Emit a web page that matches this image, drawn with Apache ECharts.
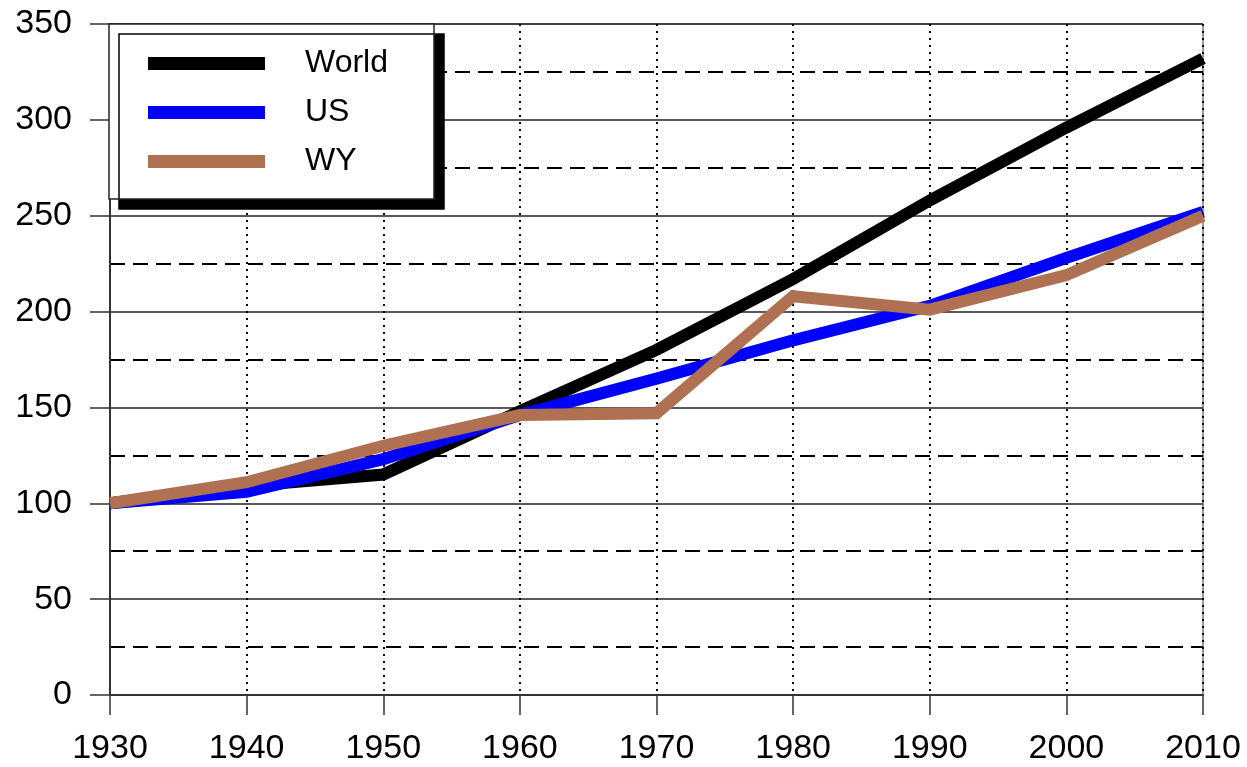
<!DOCTYPE html>
<html>
<head>
<meta charset="utf-8">
<script src="https://cdn.jsdelivr.net/npm/echarts@6/dist/echarts.min.js"></script>
<style>
html,body{margin:0;padding:0;background:#fff;}
#chart{width:1247px;height:767px;}
</style>
</head>
<body>
<div id="chart"></div>
<script>
const years = ['1930','1940','1950','1960','1970','1980','1990','2000','2010'];
const world = [100, 109, 115, 148, 180, 217, 258, 296, 332];
const us    = [100, 106, 123, 146, 165, 185, 203, 228, 252];
const wy    = [100, 111, 130, 146, 147, 208, 201, 219, 250];
const seriesNames = ['World', 'US', 'WY'];
const seriesColors = ['#000000', '#0000ff', '#af7151'];

const font = "'Liberation Sans', Arial, sans-serif";
const chart = echarts.init(document.getElementById('chart'), null, {renderer: 'canvas'});

function mk(name, data, color) {
  return {
    name: name, type: 'line', data: data, symbol: 'none', smooth: false,
    color: color,
    lineStyle: {color: color, width: 12, cap: 'butt', join: 'miter'},
    emphasis: {disabled: true}
  };
}

chart.setOption({
  animation: false,
  backgroundColor: '#fff',
  grid: {left: 110, right: 44, top: 24, bottom: 72, show: true, borderColor: '#333', borderWidth: 1, backgroundColor: 'transparent'},
  xAxis: {
    type: 'category', data: years, boundaryGap: false,
    axisLine: {lineStyle: {color: '#333', width: 2}},
    axisTick: {show: true, length: 20, inside: false, lineStyle: {color: '#333', width: 1.5}},
    axisLabel: {color: '#000', fontSize: 34, fontFamily: font, margin: 37, interval: 0},
    splitLine: {show: true, interval: 0, lineStyle: {color: '#000', width: 2, type: [2, 5]}}
  },
  yAxis: {
    type: 'value', min: 0, max: 350, interval: 50,
    axisLine: {show: true, lineStyle: {color: '#333', width: 2}},
    axisTick: {show: true, length: 20, lineStyle: {color: '#333', width: 1.5}},
    axisLabel: {color: '#000', fontSize: 34, fontFamily: font, margin: 38},
    splitLine: {show: true, lineStyle: {color: '#222', width: 1.5}},
    minorTick: {show: false, splitNumber: 2},
    minorSplitLine: {show: true, lineStyle: {color: '#000', width: 2, type: [15, 8]}}
  },
  legend: {
    orient: 'vertical', left: 109, top: 24,
    data: seriesNames,
    icon: 'rect', itemWidth: 117, itemHeight: 13, itemGap: 16,
    padding: [23, 39, 21, 39],
    backgroundColor: '#fff', borderColor: '#222', borderWidth: 1.5,
    shadowColor: '#000', shadowBlur: 0, shadowOffsetX: 10, shadowOffsetY: 10,
    selectedMode: false,
    textStyle: {color: '#000', fontSize: 32, fontFamily: font, lineHeight: 33, width: 90, padding: [0, 0, 0, 35]}
  },
  series: [
    mk(seriesNames[0], world, seriesColors[0]),
    mk(seriesNames[1], us, seriesColors[1]),
    mk(seriesNames[2], wy, seriesColors[2])
  ]
});
</script>
</body>
</html>
